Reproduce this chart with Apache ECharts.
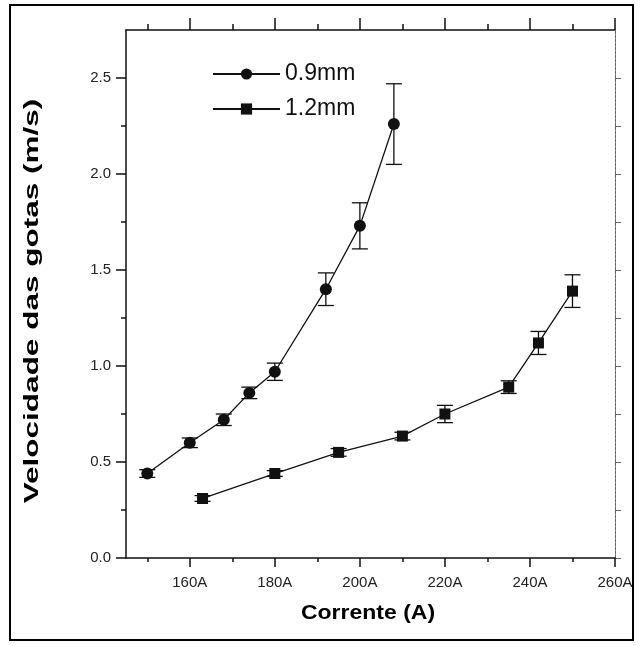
<!DOCTYPE html>
<html>
<head>
<meta charset="utf-8">
<script src="https://cdn.jsdelivr.net/npm/echarts@6/dist/echarts.min.js"></script>
<style>
html,body{margin:0;padding:0;background:#fff;}
#chart{width:641px;height:646px;}
</style>
</head>
<body>
<div id="chart"></div>
<script>
// ---- data ----
const currents09 = [150, 160, 168, 174, 180, 192, 200, 208];
const speed09    = [0.44, 0.60, 0.72, 0.86, 0.97, 1.40, 1.73, 2.26];
const err09      = [0.02, 0.025, 0.03, 0.03, 0.045, 0.085, 0.12, 0.21];

const currents12 = [163, 180, 195, 210, 220, 235, 242, 250];
const speed12    = [0.31, 0.44, 0.55, 0.635, 0.75, 0.89, 1.12, 1.39];
const err12      = [0.015, 0.015, 0.02, 0.02, 0.045, 0.033, 0.06, 0.085];

const seriesNames = ['0.9mm', '1.2mm'];
const xTitle = 'Corrente (A)';
const yTitle = 'Velocidade das gotas (m/s)';
const xLabelValues = [160, 180, 200, 220, 240, 260];
const xMinorValues = [150, 170, 190, 210, 230, 250];
const yLabelValues = [0, 0.5, 1.0, 1.5, 2.0, 2.5];
const yMinorValues = [0.25, 0.75, 1.25, 1.75, 2.25];
const yAllValues   = [0, 0.25, 0.5, 0.75, 1.0, 1.25, 1.5, 1.75, 2.0, 2.25, 2.5];

const FONT = '"Liberation Sans", Arial, Helvetica, sans-serif';
const INK = '#111';

function pts(xs, ys) { return xs.map((x, i) => [x, ys[i]]); }
function errs(xs, ys, es) { return xs.map((x, i) => [x, ys[i] - es[i], ys[i] + es[i]]); }

function errRender(params, api) {
  const x = api.value(0);
  const lo = api.coord([x, api.value(1)]);
  const hi = api.coord([x, api.value(2)]);
  const hw = 8;
  const st = { stroke: INK, lineWidth: 1.3 };
  return {
    type: 'group',
    children: [
      { type: 'line', shape: { x1: lo[0], y1: lo[1], x2: hi[0], y2: hi[1] }, style: st },
      { type: 'line', shape: { x1: lo[0] - hw, y1: lo[1], x2: lo[0] + hw, y2: lo[1] }, style: st },
      { type: 'line', shape: { x1: hi[0] - hw, y1: hi[1], x2: hi[0] + hw, y2: hi[1] }, style: st }
    ]
  };
}

const G = { left: 126, right: 26, top: 30, bottom: 88, containLabel: false };
const xBase = { type: 'value', min: 145, max: 260, splitLine: { show: false } };
const yBase = { type: 'value', min: 0, max: 2.75, splitLine: { show: false } };
const tickLine = { color: INK, width: 1.5 };

const chart = echarts.init(document.getElementById('chart'), null, { renderer: 'canvas' });
chart.setOption({
  animation: false,
  backgroundColor: '#fff',
  grid: [Object.assign({}, G), Object.assign({}, G), Object.assign({}, G), Object.assign({}, G)],
  graphic: [
    { type: 'rect', shape: { x: 10, y: 5, width: 623, height: 635 },
      style: { fill: null, stroke: '#000', lineWidth: 2 }, z: 100 },
    { type: 'text', x: 368, y: 613, scaleX: 1.15,
      style: { text: xTitle, font: 'bold 20px ' + FONT, fill: '#000', textAlign: 'center', textVerticalAlign: 'middle' } },
    { type: 'text', x: 32, y: 301, rotation: Math.PI / 2, scaleX: 1.5,
      style: { text: yTitle, font: 'bold 21px ' + FONT, fill: '#000', textAlign: 'center', textVerticalAlign: 'middle' } }
  ],
  legend: {
    data: seriesNames,
    orient: 'vertical',
    left: 207, top: 57,
    itemWidth: 67, itemHeight: 14, itemGap: 11,
    textStyle: { fontFamily: FONT, fontSize: 23, color: INK, lineHeight: 24 }
  },
  xAxis: [
    Object.assign({}, xBase, {
      gridIndex: 0, position: 'bottom',
      axisLine: { onZero: false, lineStyle: tickLine },
      axisTick: { customValues: xLabelValues, length: 9, lineStyle: tickLine },
      axisLabel: { customValues: xLabelValues, formatter: v => v + 'A', margin: 17,
        fontFamily: FONT, fontSize: 15, color: '#222' }
    }),
    Object.assign({}, xBase, {
      gridIndex: 1, position: 'bottom',
      axisLine: { onZero: false, show: false },
      axisTick: { customValues: xMinorValues, length: 4, lineStyle: tickLine },
      axisLabel: { show: false }
    }),
    Object.assign({}, xBase, {
      gridIndex: 2, position: 'top',
      axisLine: { onZero: false, lineStyle: tickLine },
      axisTick: { customValues: xLabelValues, length: 12, lineStyle: tickLine },
      axisLabel: { show: false }
    }),
    Object.assign({}, xBase, {
      gridIndex: 3, position: 'top',
      axisLine: { onZero: false, show: false },
      axisTick: { customValues: xMinorValues, length: 6, lineStyle: tickLine },
      axisLabel: { show: false }
    })
  ],
  yAxis: [
    Object.assign({}, yBase, {
      gridIndex: 0, position: 'left',
      axisLine: { onZero: false, lineStyle: tickLine },
      axisTick: { customValues: yLabelValues, length: 10, lineStyle: tickLine },
      axisLabel: { customValues: yLabelValues, formatter: v => v.toFixed(1), margin: 15,
        fontFamily: FONT, fontSize: 15, color: '#222' }
    }),
    Object.assign({}, yBase, {
      gridIndex: 1, position: 'left',
      axisLine: { onZero: false, show: false },
      axisTick: { customValues: yMinorValues, length: 5, lineStyle: tickLine },
      axisLabel: { show: false }
    }),
    Object.assign({}, yBase, {
      gridIndex: 2, position: 'right',
      axisLine: { onZero: false, lineStyle: { color: '#666', width: 1, type: [3, 1] } },
      axisTick: { customValues: yAllValues, length: 6, lineStyle: { color: '#666', width: 1 } },
      axisLabel: { show: false }
    }),
    Object.assign({}, yBase, { gridIndex: 3, show: false })
  ],
  series: [
    {
      name: seriesNames[0], type: 'line', xAxisIndex: 0, yAxisIndex: 0,
      data: pts(currents09, speed09),
      symbol: 'circle', symbolSize: 12,
      lineStyle: { color: INK, width: 1.3 }, itemStyle: { color: INK }, z: 3
    },
    {
      name: seriesNames[1], type: 'line', xAxisIndex: 0, yAxisIndex: 0,
      data: pts(currents12, speed12),
      symbol: 'rect', symbolSize: 11,
      lineStyle: { color: INK, width: 1.3 }, itemStyle: { color: INK }, z: 3
    },
    { type: 'custom', xAxisIndex: 0, yAxisIndex: 0, data: errs(currents09, speed09, err09), renderItem: errRender, z: 2 },
    { type: 'custom', xAxisIndex: 0, yAxisIndex: 0, data: errs(currents12, speed12, err12), renderItem: errRender, z: 2 }
  ]
});
</script>
</body>
</html>
